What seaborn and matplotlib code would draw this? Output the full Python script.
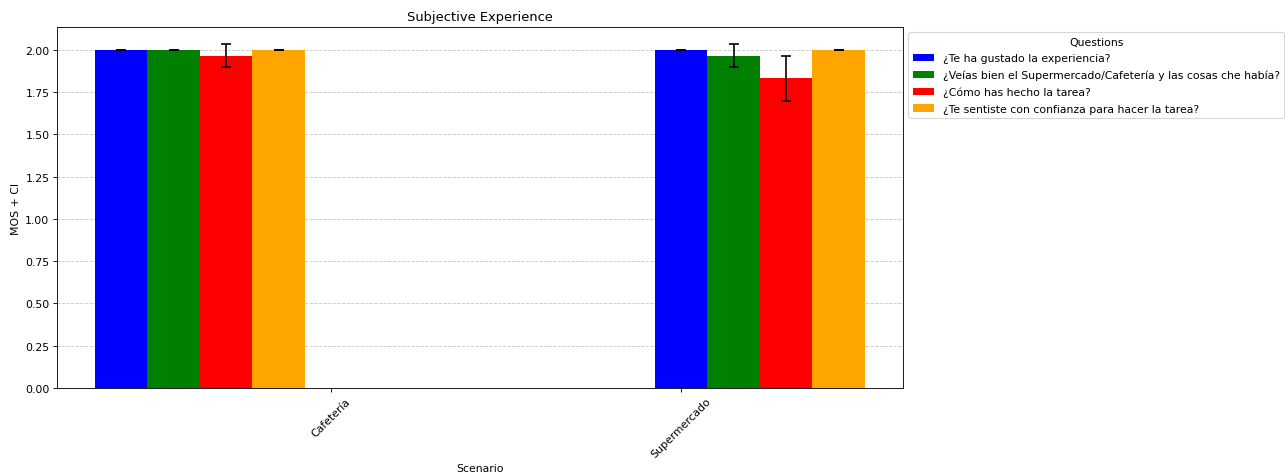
import numpy as np
import pandas as pd
import seaborn as sns
import matplotlib
matplotlib.use("Agg")
import matplotlib.pyplot as plt
from matplotlib.patches import Patch

scenarios = ["Cafetería", "Supermercado"]
questions = [
    "¿Te ha gustado la experiencia?",
    "¿Veías bien el Supermercado/Cafetería y las cosas che había?",
    "¿Cómo has hecho la tarea?",
    "¿Te sentiste con confianza para hacer la tarea?",
]
colors = ["blue", "green", "red", "orange"]

# MOS per scenario and question
mos_cafeteria = [2.00, 2.00, 1.967, 2.00]
mos_supermercado = [2.00, 1.967, 1.833, 2.00]
ci_cafeteria = [0.0, 0.0, 0.068, 0.0]
ci_supermercado = [0.0, 0.068, 0.133, 0.0]

# bar layout (group offsets as in the original figure)
width = 0.15
group_start = [-0.6, 1.0]

rows = []
for g, (mos, ci) in enumerate([(mos_cafeteria, ci_cafeteria),
                               (mos_supermercado, ci_supermercado)]):
    for i, q in enumerate(questions):
        rows.append({"pos": round(group_start[g] + i * width, 3),
                     "Question": q, "MOS": mos[i], "CI": ci[i]})
df = pd.DataFrame(rows)

DPI = 78
fig = plt.figure(figsize=(1285 / DPI, 477 / DPI), dpi=DPI)
ax = fig.add_axes([57 / 1285, 88 / 477, 846 / 1285, 361 / 477])

sns.barplot(data=df, x="pos", y="MOS", hue="Question", hue_order=questions,
            palette=colors, native_scale=True, dodge=False, width=1.0,
            saturation=1, errorbar=None, linewidth=0, legend=False, ax=ax)

ax.errorbar(df["pos"], df["MOS"], yerr=df["CI"], fmt="none",
            ecolor="black", capsize=5, capthick=1.5)

ax.set_xticks([0, 1])
ax.set_xticklabels(scenarios, rotation=45)
ax.set_xlim(-0.783, 1.634)
ax.set_ylim(0, 2.136)
ax.set_yticks(np.arange(0, 2.01, 0.25))
ax.yaxis.set_major_formatter(matplotlib.ticker.FormatStrFormatter("%.2f"))
ax.grid(axis="y", linestyle="--", alpha=0.7)
ax.set_axisbelow(True)

ax.set_title("Subjective Experience")
ax.set_xlabel("Scenario")
ax.set_ylabel("MOS + CI")

handles = [Patch(facecolor=c, label=q) for c, q in zip(colors, questions)]
ax.legend(handles=handles, title="Questions", loc="upper left",
          bbox_to_anchor=(1.0, 1.0), labelspacing=0.6)

plt.savefig("out.png", dpi=DPI)
plt.close()
